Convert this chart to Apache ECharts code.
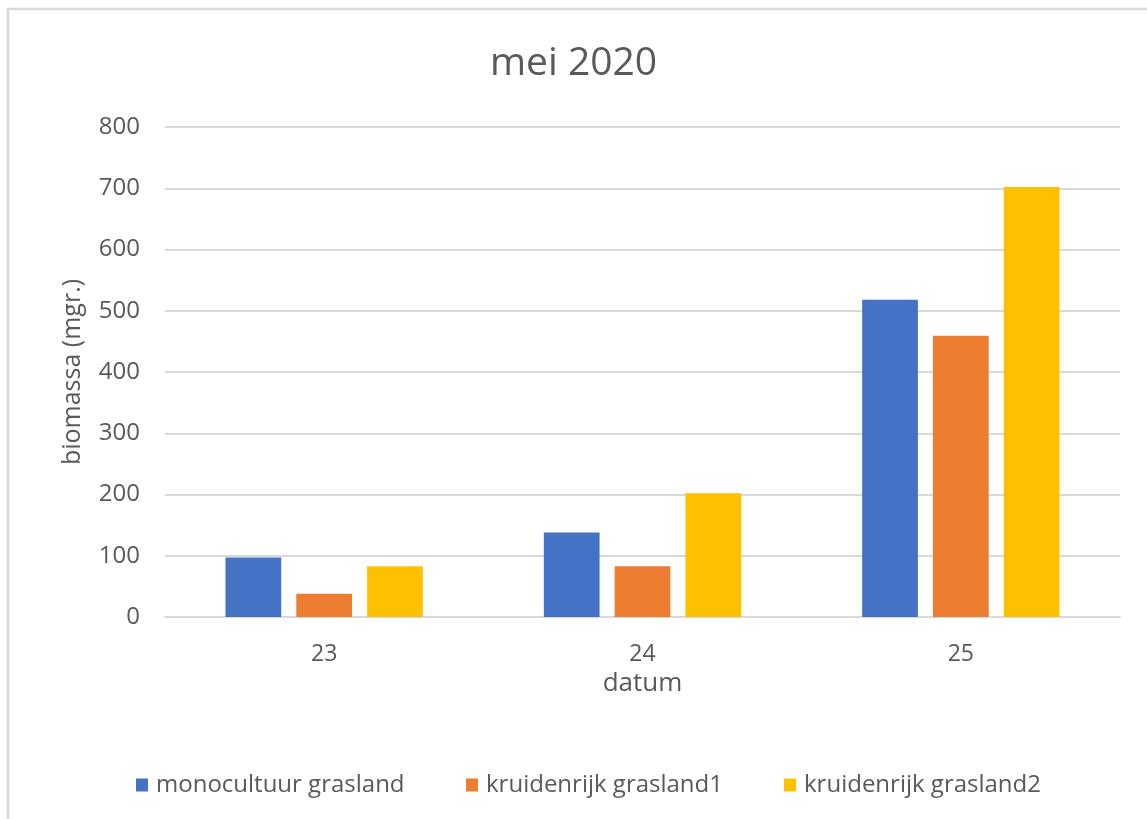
<!DOCTYPE html>
<html>
<head>
<meta charset="utf-8">
<script src="https://cdn.jsdelivr.net/npm/echarts@6/dist/echarts.min.js"></script>
<style>
  html, body { margin: 0; padding: 0; background: #fff; }
  #chart { width: 1147px; height: 819px; }
</style>
</head>
<body>
<div id="chart"></div>
<script>
// Biomass per day (mg), May 2020
const categories = ['23', '24', '25'];
const seriesNames = ['monocultuur grasland', 'kruidenrijk grasland1', 'kruidenrijk grasland2'];
const monocultuur = [97, 138, 518];
const kruidenrijk1 = [38, 83, 459];
const kruidenrijk2 = [83, 202, 702];
const yTicks = { min: 0, max: 800, interval: 100 };

const colors = ['#4472C4', '#ED7D31', '#FFC000'];
const textColor = '#595959';
const fontFamily = '"Open Sans", "Noto Sans", sans-serif';

const chart = echarts.init(document.getElementById('chart'), null, { renderer: 'canvas' });

// one legend block per series so the items sit at fixed spots along the bottom
const legendLeft = [131, 461, 779];
const legends = seriesNames.map((name, i) => ({
  data: [name],
  left: legendLeft[i],
  top: 768,
  itemWidth: 12,
  itemHeight: 13,
  itemGap: 10,
  icon: 'rect',
  textStyle: { color: textColor, fontSize: 24, fontFamily: fontFamily, padding: [0, 0, 0, 3] }
}));

chart.setOption({
  animation: false,
  backgroundColor: '#ffffff',
  color: colors,
  graphic: [{
    type: 'rect',
    shape: { x: 8, y: 9, width: 1300, height: 1000 },
    style: { fill: 'none', stroke: '#d9d9d9', lineWidth: 2.5 },
    silent: true
  }],
  title: {
    text: 'mei 2020',
    left: 'center',
    top: 39,
    textStyle: { color: textColor, fontSize: 39, fontWeight: 'normal', fontFamily: fontFamily }
  },
  legend: legends,
  grid: { left: 165, right: 27, top: 127, bottom: 202, containLabel: false },
  xAxis: {
    type: 'category',
    data: categories,
    name: 'datum',
    nameLocation: 'middle',
    nameGap: 50,
    nameTextStyle: { color: textColor, fontSize: 26, fontFamily: fontFamily },
    axisLine: { show: true, lineStyle: { color: '#d9d9d9', width: 2 } },
    axisTick: { show: false },
    axisLabel: { color: textColor, fontSize: 23, fontFamily: fontFamily, margin: 26 }
  },
  yAxis: {
    type: 'value',
    min: yTicks.min,
    max: yTicks.max,
    interval: yTicks.interval,
    name: 'biomassa (mgr.)',
    nameLocation: 'middle',
    nameGap: 80,
    nameRotate: 90,
    nameTextStyle: { color: textColor, fontSize: 25, fontFamily: fontFamily },
    axisLine: { show: false },
    axisTick: { show: false },
    splitLine: { show: true, lineStyle: { color: '#d9d9d9', width: 2 } },
    axisLabel: { color: textColor, fontSize: 24, fontFamily: fontFamily, margin: 25 }
  },
  series: [
    { name: seriesNames[0], type: 'bar', data: monocultuur, barGap: '27%', barCategoryGap: '38%' },
    { name: seriesNames[1], type: 'bar', data: kruidenrijk1, barGap: '27%', barCategoryGap: '38%' },
    { name: seriesNames[2], type: 'bar', data: kruidenrijk2, barGap: '27%', barCategoryGap: '38%' }
  ]
});
</script>
</body>
</html>
